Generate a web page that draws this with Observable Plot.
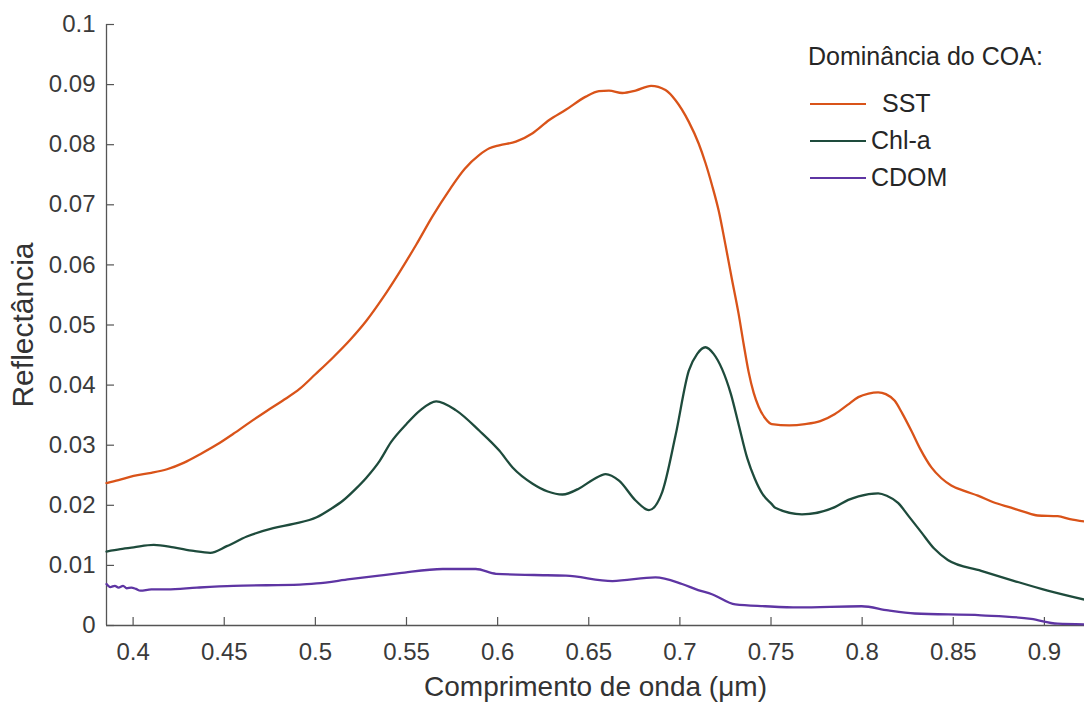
<!DOCTYPE html>
<html>
<head>
<meta charset="utf-8">
<script src="https://cdn.jsdelivr.net/npm/d3@7"></script>
<script src="https://cdn.jsdelivr.net/npm/@observablehq/plot@0.6"></script>
<style>
  html, body { margin: 0; padding: 0; background: #fff; }
  body { font-family: "Liberation Sans", Arial, sans-serif; }
  #wrap { position: relative; width: 1084px; height: 702px; overflow: hidden; }
  .leg { position: absolute; font-size: 25px; color: #262626; white-space: pre; line-height: 1; }
  .sw { position: absolute; height: 0; border-top-style: solid; border-top-width: 2.5px; }
</style>
</head>
<body>
<div id="wrap"><div id="chart"></div></div>
<script>
// ---- data ----
const seriesNames = ["SST", "Chl-a", "CDOM"];
const seriesColors = ["#D95319", "#1E4B3C", "#5E35A3"];
const legendTitle = "Dominância do COA:";
const xLabel = "Comprimento de onda (\u03BCm)";
const yLabel = "Reflectância";
const xDomain = [0.3854, 0.922];
const yDomain = [0, 0.1];
const xTicks = [0.4, 0.45, 0.5, 0.55, 0.6, 0.65, 0.7, 0.75, 0.8, 0.85, 0.9];
const yTicks = [0, 0.01, 0.02, 0.03, 0.04, 0.05, 0.06, 0.07, 0.08, 0.09, 0.1];

const sstWave = [0.3854,0.392,0.4003,0.41,0.4186,0.428,0.4368,0.446,0.455,0.464,0.4733,0.482,0.4915,0.50,0.5097,0.519,0.528,0.537,0.5462,0.5554,0.5645,0.5736,0.582,0.590,0.5955,0.6009,0.61,0.6192,0.6283,0.6374,0.6484,0.6556,0.6611,0.6684,0.6757,0.6842,0.6921,0.6976,0.7049,0.7103,0.714,0.7176,0.7213,0.7249,0.7285,0.7322,0.735,0.7377,0.7405,0.7432,0.747,0.7504,0.76,0.7687,0.777,0.7851,0.792,0.7979,0.8035,0.8088,0.813,0.8179,0.822,0.827,0.832,0.838,0.8435,0.8489,0.856,0.8635,0.872,0.8817,0.889,0.8963,0.9073,0.914,0.922];
const sstRefl = [0.0237,0.0242,0.0249,0.0254,0.026,0.0271,0.0285,0.0301,0.0319,0.0338,0.0357,0.0374,0.0394,0.0418,0.0446,0.0475,0.0507,0.0545,0.0588,0.0634,0.0682,0.0725,0.076,0.0783,0.0794,0.0799,0.0805,0.0819,0.0841,0.0858,0.088,0.0889,0.089,0.0886,0.089,0.0898,0.0891,0.0874,0.0838,0.0802,0.077,0.0733,0.069,0.0635,0.0577,0.0519,0.0468,0.0422,0.0387,0.0364,0.0344,0.0335,0.0333,0.0335,0.034,0.0352,0.0367,0.038,0.0386,0.0388,0.0385,0.0374,0.0353,0.0324,0.0293,0.0263,0.0245,0.0233,0.0224,0.0216,0.0205,0.0196,0.0189,0.0183,0.0182,0.0177,0.0173];

const chlWave = [0.3854,0.393,0.4003,0.4113,0.4222,0.4332,0.4423,0.4514,0.4624,0.4769,0.4879,0.5007,0.508,0.5152,0.522,0.528,0.5353,0.5415,0.5499,0.5575,0.5663,0.5772,0.59,0.6009,0.6082,0.6192,0.6275,0.6356,0.6447,0.6525,0.6593,0.6666,0.6757,0.683,0.6903,0.6976,0.7049,0.7095,0.714,0.7185,0.7231,0.728,0.7322,0.737,0.741,0.7455,0.7504,0.7523,0.767,0.785,0.7924,0.798,0.8088,0.8135,0.8197,0.8255,0.8325,0.8395,0.847,0.8653,0.8836,0.9018,0.922];
const chlRefl = [0.0123,0.0127,0.013,0.0134,0.013,0.0124,0.0121,0.0132,0.0148,0.0162,0.0169,0.018,0.0193,0.0208,0.0227,0.0246,0.0274,0.0305,0.0335,0.0358,0.0373,0.0358,0.0324,0.0291,0.0263,0.0236,0.0223,0.0218,0.0228,0.0243,0.0252,0.0241,0.0208,0.0192,0.0222,0.0316,0.0424,0.0452,0.0463,0.0452,0.0427,0.0385,0.0335,0.0278,0.0245,0.0218,0.0202,0.0196,0.0185,0.0197,0.0209,0.0215,0.022,0.0216,0.0204,0.0182,0.0155,0.0128,0.0109,0.0091,0.0074,0.0058,0.0043];

const cdomWave = [0.3854,0.3875,0.39,0.392,0.3945,0.3965,0.399,0.4015,0.404,0.41,0.4186,0.435,0.455,0.4915,0.5007,0.5189,0.535,0.5462,0.5699,0.588,0.5991,0.62,0.6374,0.663,0.6866,0.7012,0.71,0.7176,0.7304,0.7468,0.765,0.7997,0.8143,0.8289,0.8653,0.8927,0.9073,0.922];
const cdomRefl = [0.0069,0.0064,0.0066,0.0063,0.0066,0.0062,0.0063,0.0061,0.0058,0.006,0.006,0.0063,0.0066,0.0068,0.007,0.0077,0.0083,0.0087,0.0094,0.0094,0.0086,0.0084,0.0083,0.0074,0.008,0.0069,0.0059,0.0052,0.0035,0.0032,0.003,0.0032,0.0025,0.002,0.0017,0.0011,0.0003,0.0002];

// ---- build table ----
const waves = [sstWave, chlWave, cdomWave];
const refls = [sstRefl, chlRefl, cdomRefl];
const rows = [];
seriesNames.forEach((s, i) => waves[i].forEach((w, j) => rows.push({series: s, w, r: refls[i][j]})));

const axisColor = "#555";
const chart = Plot.plot({
  width: 1084,
  height: 702,
  marginLeft: 106,
  marginRight: 0,
  marginTop: 24,
  marginBottom: 77,
  style: {fontFamily: "'Liberation Sans', Arial, sans-serif", fontSize: "24px", color: "#333", background: "#fff", overflow: "visible"},
  x: {domain: xDomain},
  y: {domain: yDomain},
  color: {domain: seriesNames, range: seriesColors},
  marks: [
    Plot.axisX(xTicks, {tickSize: 0, tickPadding: 17, fontSize: 24, label: null, tickFormat: d => `${d}`, fill: "#3a3a3a"}),
    Plot.axisY(yTicks, {tickSize: 0, tickPadding: 11, fontSize: 24, label: null, tickFormat: d => `${d}`, fill: "#3a3a3a"}),
    Plot.tickX(xTicks, {x: d => d, insetTop: 593, stroke: axisColor, strokeWidth: 1.2}),
    Plot.tickY(yTicks, {y: d => d, insetRight: 970, stroke: axisColor, strokeWidth: 1.2}),
    Plot.ruleX([xDomain[0]], {stroke: axisColor, strokeWidth: 1.3}),
    Plot.ruleY([yDomain[0]], {stroke: axisColor, strokeWidth: 1.3}),
    Plot.line(rows, {x: "w", y: "r", z: "series", stroke: "series", strokeWidth: 2.3, curve: "monotone-x"}),
    Plot.text([yLabel], {frameAnchor: "left", textAnchor: "middle", lineAnchor: "middle", dx: -83, rotate: -90, fontSize: 30, fill: "#333"}),
    Plot.text([xLabel], {frameAnchor: "bottom", textAnchor: "middle", lineAnchor: "middle", dy: 62, fontSize: 28, fill: "#333"})
  ]
});
const wrap = document.getElementById("wrap");
document.getElementById("chart").appendChild(chart);

// ---- legend (HTML overlay) ----
function addText(txt, left, cy) {
  const d = document.createElement("div");
  d.className = "leg";
  d.textContent = txt;
  d.style.left = left + "px";
  d.style.top = (cy - 13) + "px";
  wrap.appendChild(d);
}
addText(legendTitle, 808, 57);
const rowY = [104, 141, 178];
const labelX = [882, 871, 871];
seriesNames.forEach((s, i) => {
  const l = document.createElement("div");
  l.className = "sw";
  l.style.left = "810px";
  l.style.width = "56px";
  l.style.top = (rowY[i] - 1) + "px";
  l.style.borderTopColor = seriesColors[i];
  wrap.appendChild(l);
  addText(s, labelX[i], rowY[i]);
});
</script>
</body>
</html>
